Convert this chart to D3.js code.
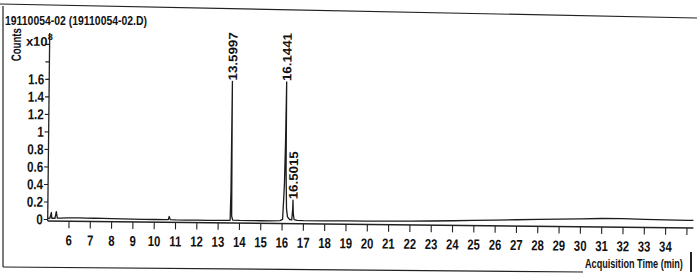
<!DOCTYPE html>
<html>
<head>
<meta charset="utf-8">
<script src="https://cdn.jsdelivr.net/npm/d3@7"></script>
<style>
  body { margin: 0; background: #fff; }
  svg text { font-family: "Liberation Sans Narrow", "Liberation Sans", Arial, sans-serif; fill: #111; }
</style>
</head>
<body>
<div id="svg" style="width:697px;height:276px"></div>
<script>
// sample / axis texts
var sampleName = "19110054-02 (19110054-02.D)";
var yTitle = "Counts";
var xTitle = "Acquisition Time (min)";

// tick values and labels
var xTickValues = [6,7,8,9,10,11,12,13,14,15,16,17,18,19,20,21,22,23,24,25,26,27,28,29,30,31,32,33,34,35];
var xTickLabels = ["6","7","8","9","10","11","12","13","14","15","16","17","18","19","20","21","22","23","24","25","26","27","28","29","30","31","32","33","34",""];
var yTickValues = [0,0.2,0.4,0.6,0.8,1,1.2,1.4,1.6,1.8,2.0];
var yTickLabels = ["0","0.2","0.4","0.6","0.8","1","1.2","1.4","1.6","",""];

// TIC trace (min, counts x10^8)
var retTime = [5.00,5.10,5.17,5.19,5.23,5.34,5.40,5.45,5.60,5.90,6.20,6.50,6.80,7.20,7.60,8.00,8.50,9.00,9.50,10.00,10.50,10.66,10.70,10.75,11.00,11.50,12.00,12.50,13.00,13.40,13.56,13.585,13.597,13.61,13.63,13.68,14.00,14.50,15.00,15.50,15.90,16.02,16.06,16.09,16.12,16.144,16.16,16.20,16.25,16.35,16.45,16.49,16.50,16.52,16.56,16.70,17.00,18.00,19.00,20.00,21.00,22.00,23.00,24.00,25.00,26.00,27.00,28.00,29.00,30.00,31.00,32.00,33.00,34.00,35.00,35.30];
var counts  = [0.015,0.014,0.080,0.016,0.015,0.015,0.090,0.017,0.018,0.020,0.022,0.023,0.021,0.020,0.019,0.018,0.017,0.015,0.014,0.013,0.013,0.014,0.050,0.014,0.012,0.011,0.011,0.010,0.010,0.011,0.013,0.350,1.600,0.900,0.060,0.016,0.013,0.012,0.012,0.013,0.015,0.030,0.250,0.430,0.900,1.600,0.600,0.150,0.060,0.030,0.026,0.150,0.250,0.100,0.030,0.020,0.018,0.018,0.020,0.022,0.024,0.026,0.030,0.036,0.042,0.048,0.055,0.062,0.068,0.074,0.080,0.080,0.076,0.072,0.070,0.070];

// labelled peaks
var peakTimes  = [13.5997, 16.1441, 16.5015];
var peakHeights = [1.6, 1.6, 0.25];
var peakLabels = ["13.5997", "16.1441", "16.5015"];

var trace = retTime.map(function(t, i){ return {t: t, v: counts[i]}; });
var peaks = peakTimes.map(function(t, i){ return {t: t, v: peakHeights[i], label: peakLabels[i]}; });

var W = 697, H = 276;
var svg = d3.select('#svg').append('svg')
            .attr('width', W).attr('height', H);

// page frame (scanned print, slightly tilted)
var frame = svg.append('g').attr('stroke', '#222').attr('fill', 'none');
frame.append('line').attr('x1', 0).attr('y1', 4).attr('x2', 697).attr('y2', 18).attr('stroke-width', 1.2);
frame.append('line').attr('x1', 3).attr('y1', 6).attr('x2', 3).attr('y2', 267).attr('stroke-width', 1.2);
frame.append('line').attr('x1', 3).attr('y1', 267).attr('x2', 583).attr('y2', 272).attr('stroke-width', 1.2);
frame.append('line').attr('x1', 691).attr('y1', 252).attr('x2', 691).attr('y2', 272).attr('stroke-width', 2);

svg.append('text')
  .attr('x', 5).attr('y', 24.5)
  .attr('font-size', 12.5).attr('font-weight', 'bold')
  .attr('textLength', 142).attr('lengthAdjust', 'spacingAndGlyphs')
  .text(sampleName);

svg.append('text')
  .attr('transform', 'translate(585,268) scale(0.7,1)')
  .attr('font-size', 13).attr('font-weight', 'bold')
  .text(xTitle);

// chart group, rotated a little like the scan
var chart = svg.append('g').attr('transform', 'rotate(0.62,48,220)');

var x = d3.scaleLinear().domain([5, 35.3]).range([47.7, 693.4]);
var y = d3.scaleLinear().domain([0, 2.13]).range([219.5, 33]);
var axisY = 221;

// Y axis
chart.append('line')
  .attr('x1', x(5)).attr('x2', x(5))
  .attr('y1', y(2.13)).attr('y2', axisY)
  .attr('stroke', '#222').attr('stroke-width', 1.3);

var yt = chart.append('g').selectAll('g').data(yTickValues).enter().append('g');
yt.append('line')
  .attr('x1', x(5) - 4).attr('x2', x(5))
  .attr('y1', function(d){ return y(d); }).attr('y2', function(d){ return y(d); })
  .attr('stroke', '#222').attr('stroke-width', 1.1);
yt.append('text')
  .attr('transform', function(d){ return 'translate(' + (x(5) - 5) + ',' + (y(d) + 5) + ') scale(0.8,1)'; })
  .attr('text-anchor', 'end').attr('font-size', 14.5).attr('font-weight', 'bold')
  .text(function(d, i){ return yTickLabels[i]; });

// X axis
chart.append('line')
  .attr('x1', x(5)).attr('x2', x(35.3))
  .attr('y1', axisY).attr('y2', axisY)
  .attr('stroke', '#222').attr('stroke-width', 1.3);

var xt = chart.append('g').selectAll('g').data(xTickValues).enter().append('g');
xt.append('line')
  .attr('x1', function(d){ return x(d); }).attr('x2', function(d){ return x(d); })
  .attr('y1', axisY).attr('y2', axisY + 7)
  .attr('stroke', '#222').attr('stroke-width', 1.1);
xt.append('text')
  .attr('transform', function(d){ return 'translate(' + x(d) + ',' + (axisY + 24) + ') scale(0.78,1)'; })
  .attr('text-anchor', 'middle').attr('font-size', 14.5).attr('font-weight', 'bold')
  .text(function(d, i){ return xTickLabels[i]; });

// y title and exponent
chart.append('text')
  .attr('transform', 'translate(19,45) rotate(-90)')
  .attr('text-anchor', 'middle').attr('font-size', 13.5).attr('font-weight', 'bold')
  .attr('textLength', 33).attr('lengthAdjust', 'spacingAndGlyphs')
  .text(yTitle);

var sci = chart.append('text').attr('x', 24).attr('y', 46).attr('font-size', 13).attr('font-weight', 'bold');
sci.append('tspan').text('x10');
sci.append('tspan').attr('dy', -6).attr('font-size', 9).text('8');

// trace
var line = d3.line()
  .x(function(d){ return x(d.t); })
  .y(function(d){ return y(d.v); });

chart.append('path')
  .attr('d', line(trace))
  .attr('fill', 'none')
  .attr('stroke', '#1c1c1c')
  .attr('stroke-width', 1.3)
  .attr('stroke-linejoin', 'round');

// peak labels
chart.selectAll('.peak-label')
  .data(peaks).enter().append('text')
  .attr('class', 'peak-label')
  .attr('transform', function(d){ return 'translate(' + (x(d.t) + 4.5) + ',' + (y(d.v) - 1) + ') rotate(-90)'; })
  .attr('font-size', 12.5).attr('font-weight', 'bold')
  .attr('textLength', 48).attr('lengthAdjust', 'spacingAndGlyphs')
  .text(function(d){ return d.label; });
</script>
</body>
</html>
